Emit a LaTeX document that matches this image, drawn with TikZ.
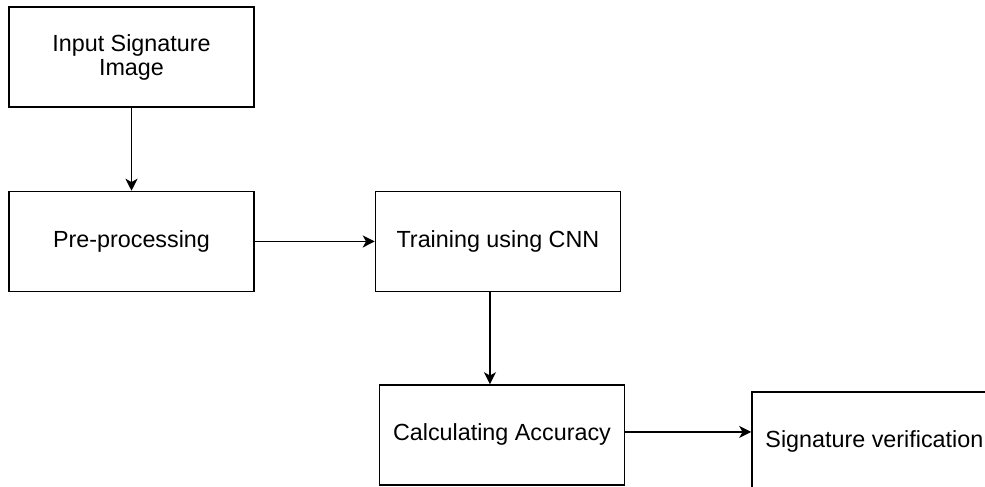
\documentclass[tikz,border=0pt]{standalone}
\usepackage{fontspec}
\setmainfont{Liberation Sans}
\usetikzlibrary{positioning}
\usetikzlibrary{arrows.meta}

\begin{document}
\begin{tikzpicture}[every node/.style={rectangle, draw, line width=1.1pt, minimum width=183.75pt, minimum height=75pt, inner sep=0pt, align=center, font=\fontsize{17.5}{18}\selectfont}, >={Stealth[length=9pt, width=9pt, inset=2.5pt]}, line width=1.2pt]
    
    \useasboundingbox (0,0) rectangle (738.75pt,-364.5pt);
    \clip (0,0) rectangle (738.75pt,-364.5pt);
    
    \node at (98.625pt,-42.75pt) (input) {Input Signature\\Image};
    \node[below=62.25pt of input] (pre) {Pre-processing};
    \node[right=90pt of pre] (train) {Training using CNN};
    \node[below=69pt of train, xshift=3pt] (calc) {Calculating Accuracy};
    \node[right=94.5pt of calc, yshift=-5.25pt] (verify) {Signature verification};
    
    \draw[->] (input) -- (pre);
    \draw[->] (pre) -- (train);
    \draw[->] ([xshift=-6pt]train.south) -- ([xshift=-6pt]train.south |- calc.north);
    \draw[->] ([yshift=2.25pt]calc.east) -- ([yshift=2.25pt]calc.east -| verify.west);
    \end{tikzpicture}
\end{document}
